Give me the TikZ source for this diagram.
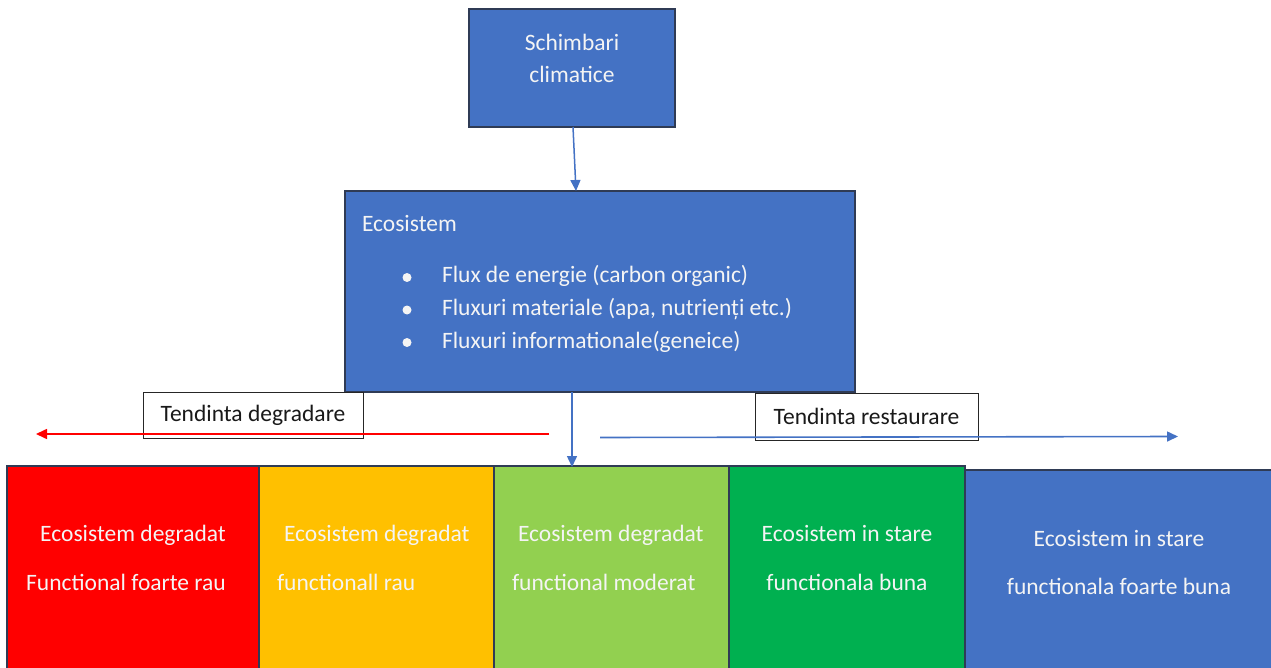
\documentclass[tikz,border=0pt]{standalone}
\usepackage{fontspec}
\setmainfont{Carlito}
\usetikzlibrary{arrows.meta}
\definecolor{obl}{HTML}{4472C4}
\definecolor{ored}{HTML}{FF0000}
\definecolor{oorg}{HTML}{FFC000}
\definecolor{olgr}{HTML}{92D050}
\definecolor{ogrn}{HTML}{00B050}
\definecolor{edge}{HTML}{2F3B55}
\definecolor{wtxt}{HTML}{F4F4F4}
\tikzset{
  box/.style={draw=edge, line width=1.4pt, inner sep=0pt, outer sep=0pt, anchor=north west},
  lbl/.style={draw=black!85, line width=0.9pt, fill=white, inner sep=0pt, outer sep=0pt, text=black!90},
  wt/.style={text=wtxt, inner sep=0pt, outer sep=0pt},
  bl/.style={circle, fill=wtxt, inner sep=0pt, minimum size=9pt},
  tip/.style={-{Triangle[length=11pt,width=10pt]}},
}
\begin{document}
\begin{tikzpicture}[x=1pt,y=-1pt,font=\fontsize{23.5}{28}\selectfont]
\useasboundingbox (0,0) rectangle (1271,668);
% top box
\node (top) [box, fill=obl, minimum width=206pt, minimum height=118pt] at (469,9) {};
\node (t1) [wt, anchor=base] at (572,50.5) {Schimbari};
\node (t2) [wt, anchor=base] at (572,82.5) {climatice};
% ecosystem box
\node (eco) [box, fill=obl, minimum width=510pt, minimum height=201pt] at (345,191) {};
\node (e0) [wt, anchor=base west] at (362,232) {Ecosistem};
\node (b1) [bl] at (407,277.5) {};
\node (b2) [bl] at (407,310) {};
\node (b3) [bl] at (407,342.5) {};
\node (e1) [wt, anchor=base west] at (442,283) {Flux de energie (carbon organic)};
\node (e2) [wt, anchor=base west] at (442,316) {Fluxuri materiale (apa, nutrienți etc.)};
\node (e3) [wt, anchor=base west] at (442,348) {Fluxuri informationale(geneice)};
% bottom boxes
\node (s1) [box, fill=ored, minimum width=252pt, minimum height=203pt] at (7,466) {};
\node (s2) [box, fill=oorg, minimum width=235pt, minimum height=203pt] at (259,466) {};
\node (s3) [box, fill=olgr, minimum width=235pt, minimum height=203pt] at (494,466) {};
\node (s4) [box, fill=ogrn, minimum width=236pt, minimum height=203pt] at (729,466) {};
\node (s5) [box, fill=obl, minimum width=310pt, minimum height=200pt] at (965,470) {};
\node (s1a) [wt, anchor=base] at (133,541) {Ecosistem degradat};
\node (s1b) [wt, anchor=base] at (126,590) {Functional foarte rau};
\node (s2a) [wt, anchor=base west] at (284,541) {Ecosistem degradat};
\node (s2b) [wt, anchor=base west] at (277,590) {functionall rau};
\node (s3a) [wt, anchor=base west] at (518,541) {Ecosistem degradat};
\node (s3b) [wt, anchor=base west] at (512,590) {functional moderat};
\node (s4a) [wt, anchor=base] at (847,541.5) {Ecosistem in stare};
\node (s4b) [wt, anchor=base] at (847,590.5) {functionala buna};
\node (s5a) [wt, anchor=base] at (1119,546) {Ecosistem in stare};
\node (s5b) [wt, anchor=base] at (1119,594) {functionala foarte buna};
% labels
\node (l1) [lbl, minimum width=220pt, minimum height=46pt] at (253,415) {Tendinta degradare};
\node (l2) [lbl, minimum width=223pt, minimum height=47pt] at (866.5,416.5) {Tendinta restaurare};
% connectors
\coordinate (a1) at (576,191);
\coordinate (a2) at (572,392);
\coordinate (a3) at (572,467);
\coordinate (r1) at (549,434);
\coordinate (r2) at (36,434);
\coordinate (g1) at (600,437.5);
\coordinate (g2) at (1178,436.5);
\draw[tip, obl, line width=1.5pt] ([xshift=1pt]top.south) -- (a1);
\draw[tip, obl, line width=1.5pt] (a2) -- (a3);
\draw[tip, ored, line width=1.6pt] (r1) -- (r2);
\draw[tip, obl, line width=1.6pt] (g1) -- (g2);
\end{tikzpicture}
\end{document}
